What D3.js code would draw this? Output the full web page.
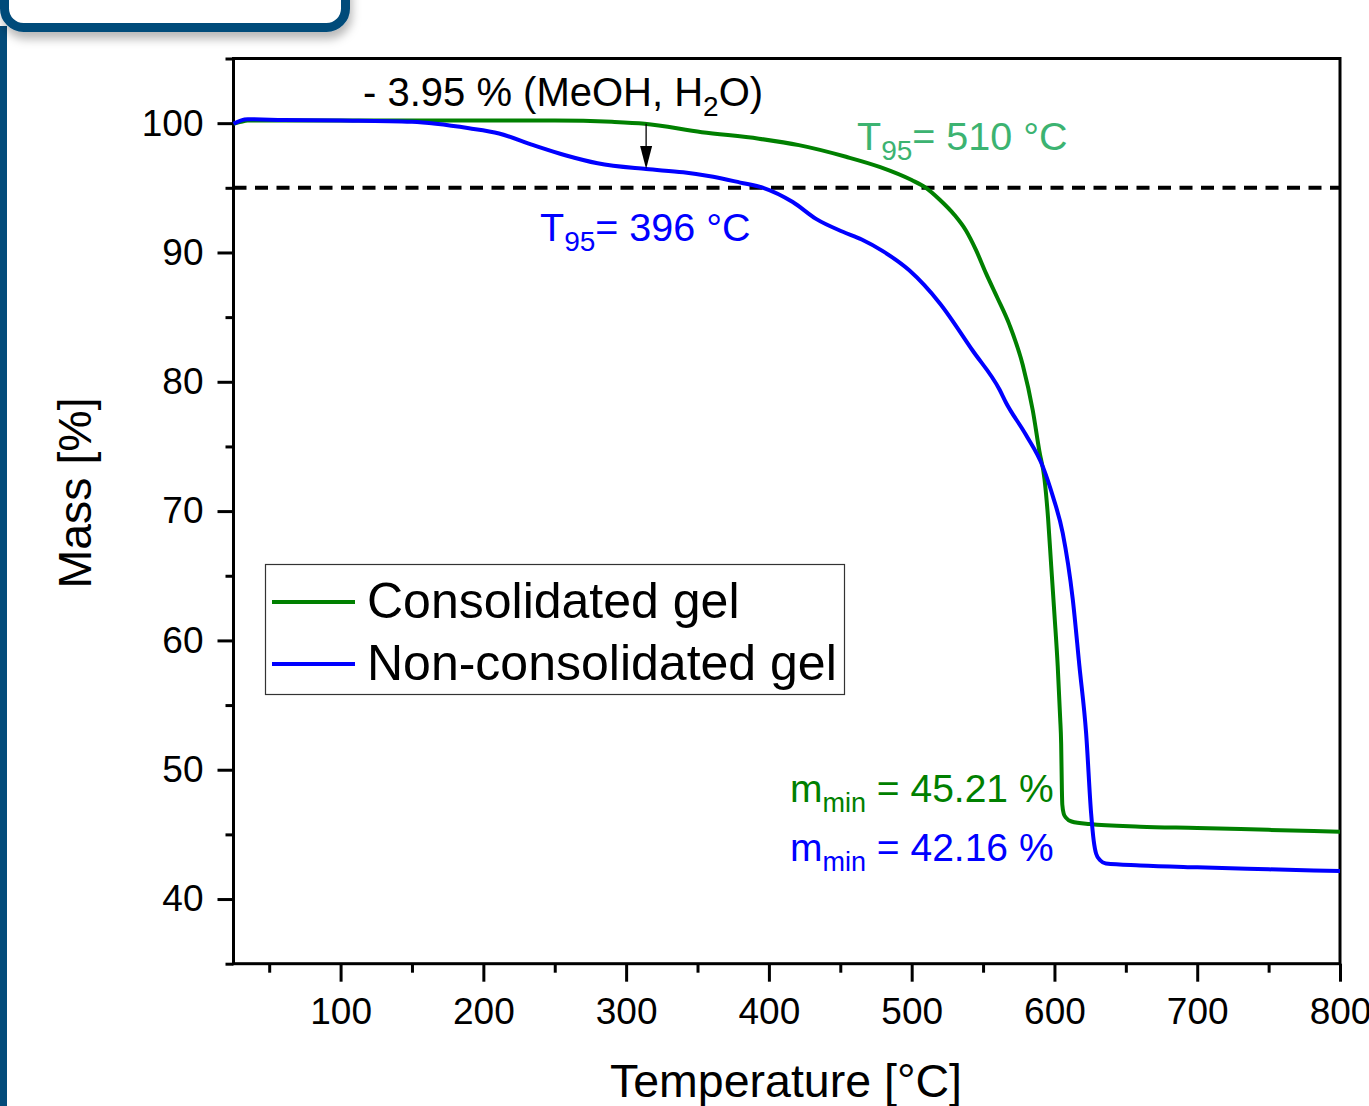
<!DOCTYPE html>
<html lang="en">
<head>
<meta charset="UTF-8">
<title>TGA</title>
<style>
  body { margin: 0; background: #fff; }
  svg { display: block; }
  text { font-family: "Liberation Sans", Arial, sans-serif; }
</style>
</head>
<body>
<div id="chart"></div>
<script src="https://cdn.jsdelivr.net/npm/d3@7"></script>
<script>
// Consolidated gel (temperature in °C, mass in %)
var consT = [25, 30, 35, 60, 150, 250, 290, 313, 353, 393, 421, 454, 478, 500, 510, 519.5, 530, 538, 545, 552, 560, 568.5, 577.8, 584.8, 589.5, 593, 595.5, 597.7, 600, 602.3, 604, 604.7, 605.2, 605.5, 606.5, 608, 612, 624.5, 660, 700, 750, 800];
var consM = [99.95, 100.1, 100.2, 100.2, 100.2, 100.2, 100.1, 99.95, 99.3, 98.8, 98.3, 97.4, 96.6, 95.6, 95.0, 94.1, 92.9, 91.7, 90.2, 88.4, 86.5, 84.4, 81.3, 77.8, 74.6, 72.5, 69.5, 65.8, 62, 58, 54, 52, 48.5, 47.3, 46.6, 46.3, 46.0, 45.8, 45.6, 45.5, 45.35, 45.21];

// Non-consolidated gel
var nonT = [25, 30, 35, 60, 100, 150, 190, 211, 235, 258, 280, 314, 340, 361, 380, 396, 416.7, 433, 451.8, 465, 479.8, 498.5, 519.5, 542.8, 561.5, 566, 580, 592, 599, 605.8, 612.8, 617.5, 622.2, 625.7, 627.5, 629.2, 632, 636, 660, 700, 750, 800];
var nonM = [99.95, 100.2, 100.3, 100.25, 100.2, 100.1, 99.6, 99.2, 98.3, 97.5, 96.9, 96.45, 96.2, 95.85, 95.4, 95.0, 93.9, 92.6, 91.6, 91.0, 90.1, 88.6, 86.1, 82.4, 79.4, 78.4, 75.9, 73.4, 71.1, 68.3, 63.2, 58.0, 52.8, 46.6, 44.5, 43.5, 43.0, 42.75, 42.6, 42.45, 42.3, 42.16];

var seriesNames = ["Consolidated gel", "Non-consolidated gel"];
var seriesColors = ["#008000", "#0000ff"];
var xMajor = [100, 200, 300, 400, 500, 600, 700, 800];
var xMinor = [50, 150, 250, 350, 450, 550, 650, 750];
var yMajor = [40, 50, 60, 70, 80, 90, 100];
var yMinor = [35, 45, 55, 65, 75, 85, 95, 105];
var t95Level = 95;

var W = 1369, H = 1106;
var plotL = 233.5, plotT = 58.5, plotR = 1340, plotB = 963.7;

var svg = d3.select("#chart").append("svg")
    .attr("width", W)
    .attr("height", H);

// frame decoration (top-left box and left bar)
var defs = svg.append("defs");
var f = defs.append("filter").attr("id", "shadow")
    .attr("x", "-10%").attr("y", "-50%").attr("width", "130%").attr("height", "250%");
f.append("feDropShadow").attr("dx", 2).attr("dy", 7).attr("stdDeviation", 5)
    .attr("flood-color", "#000").attr("flood-opacity", 0.28);

svg.append("rect")
    .attr("x", 0).attr("y", 26).attr("width", 7).attr("height", H)
    .attr("fill", "#034b7a");
svg.append("rect")
    .attr("x", 4.5).attr("y", -30).attr("width", 341).attr("height", 57.5)
    .attr("rx", 19).attr("ry", 19)
    .attr("fill", "#fff").attr("stroke", "#034b7a").attr("stroke-width", 9)
    .attr("filter", "url(#shadow)");

var x = d3.scaleLinear().domain([25, 800]).range([plotL, plotR]);
var y = d3.scaleLinear().domain([35, 105]).range([plotB, plotT]);

// axes
var gx = svg.append("g").attr("transform", "translate(0," + plotB + ")");
gx.call(d3.axisBottom(x).tickValues(xMinor).tickSize(9).tickFormat(""));
var gx2 = svg.append("g").attr("transform", "translate(0," + plotB + ")");
gx2.call(d3.axisBottom(x).tickValues(xMajor).tickSize(18).tickPadding(16).tickFormat(d3.format("d")));

var gy = svg.append("g").attr("transform", "translate(" + plotL + ",0)");
gy.call(d3.axisLeft(y).tickValues(yMinor).tickSize(8).tickFormat(""));
var gy2 = svg.append("g").attr("transform", "translate(" + plotL + ",0)");
gy2.call(d3.axisLeft(y).tickValues(yMajor).tickSize(16).tickPadding(14).tickFormat(d3.format("d")));

svg.selectAll(".domain").remove();
svg.selectAll(".tick line").attr("stroke", "#000").attr("stroke-width", 3);
svg.selectAll(".tick text")
    .attr("fill", "#000")
    .style("font-size", "37px")
    .style("font-family", "'Liberation Sans', Arial, sans-serif");

// frame
svg.append("rect")
    .attr("x", plotL).attr("y", plotT)
    .attr("width", plotR - plotL).attr("height", plotB - plotT)
    .attr("fill", "none").attr("stroke", "#000").attr("stroke-width", 3);

// 95 % dashed line
svg.append("line")
    .attr("x1", x(25)).attr("x2", x(800))
    .attr("y1", y(t95Level)).attr("y2", y(t95Level))
    .attr("stroke", "#000").attr("stroke-width", 4)
    .attr("stroke-dasharray", "13,8.5");

// curves
var line = d3.line()
    .x(function(d) { return x(d[0]); })
    .y(function(d) { return y(d[1]); })
    .curve(d3.curveMonotoneX);

var series = [d3.zip(consT, consM), d3.zip(nonT, nonM)];
svg.append("g").selectAll("path")
    .data(series)
    .enter()
    .append("path")
    .attr("d", line)
    .attr("fill", "none")
    .attr("stroke", function(d, i) { return seriesColors[i]; })
    .attr("stroke-width", 4)
    .attr("stroke-linejoin", "round");

// arrow for mass loss
var ax = x(314), ay0 = y(99.95), ay1 = y(96.45);
svg.append("line")
    .attr("x1", ax).attr("x2", ax)
    .attr("y1", ay0).attr("y2", ay1 - 10)
    .attr("stroke", "#000").attr("stroke-width", 1.3);
svg.append("path")
    .attr("d", "M" + (ax - 6) + "," + (ay1 - 23) + " L" + (ax + 6) + "," + (ay1 - 23) + " L" + ax + "," + ay1 + " Z")
    .attr("fill", "#000");

// annotation helper with subscripts
function label(px, py, color, parts, size) {
    var t = svg.append("text").attr("x", px).attr("y", py)
        .attr("fill", color).style("font-size", size + "px");
    var shift = 0;
    parts.forEach(function(p) {
        var s = t.append("tspan").text(p[0]);
        var want = p[1] ? 10 : 0;
        s.attr("dy", want - shift);
        shift = want;
        if (p[1]) s.style("font-size", Math.round(size * 0.7) + "px");
    });
    return t;
}

label(363, 106, "#000", [["- 3.95 % (MeOH, H", 0], ["2", 1], ["O)", 0]], 40);
label(857, 150, "#3cb371", [["T", 0], ["95", 1], ["= 510 °C", 0]], 39.5);
label(540, 241, "#0000ff", [["T", 0], ["95", 1], ["= 396 °C", 0]], 39.5);
label(790, 802, "#008000", [["m", 0], ["min", 1], [" = 45.21 %", 0]], 39);
label(790, 861, "#0000ff", [["m", 0], ["min", 1], [" = 42.16 %", 0]], 39);

// legend
var lg = svg.append("g");
lg.append("rect")
    .attr("x", 265.5).attr("y", 564.5).attr("width", 579).attr("height", 130)
    .attr("fill", "#fff").attr("stroke", "#333").attr("stroke-width", 1.2);
seriesNames.forEach(function(name, i) {
    var yy = 602 + i * 62;
    lg.append("line")
        .attr("x1", 272).attr("x2", 355).attr("y1", yy).attr("y2", yy)
        .attr("stroke", seriesColors[i]).attr("stroke-width", 4);
    lg.append("text")
        .attr("x", 367).attr("y", yy + 16)
        .attr("fill", "#000").style("font-size", "50px")
        .text(name);
});

// axis titles
svg.append("text")
    .attr("x", 786).attr("y", 1097)
    .attr("text-anchor", "middle")
    .style("font-size", "46.5px")
    .text("Temperature [°C]");
svg.append("text")
    .attr("transform", "translate(91," + 493 + ") rotate(-90)")
    .attr("text-anchor", "middle")
    .style("font-size", "46.5px")
    .text("Mass [%]");
</script>
</body>
</html>
